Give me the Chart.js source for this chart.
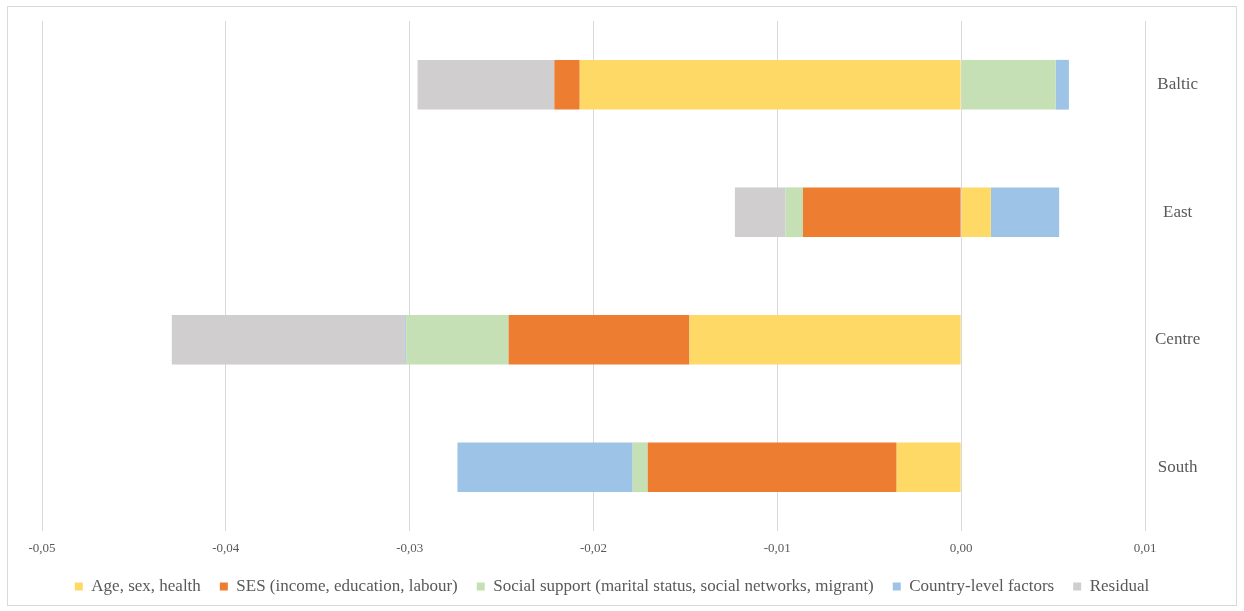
<!DOCTYPE html>
<html>
<head>
<meta charset="UTF-8">
<title>Decomposition by region</title>
<script src="https://cdn.jsdelivr.net/npm/chart.js"></script>
<style>
  body { margin: 0; background: #fff; }
  .frame {
    position: absolute;
    left: 7px; top: 6px;
    width: 1228px; height: 598px;
    border: 1px solid #d9d9d9;
  }
</style>
</head>
<body>
<div class="frame"><canvas id="chart"></canvas></div>
<script>
// regions (top to bottom)
const regions = ['Baltic', 'East', 'Centre', 'South'];

// contribution of each group of factors, per region
const ageSexHealth   = [-0.02075,  0.00161, -0.01478, -0.00351];
const ses            = [-0.00138, -0.00861, -0.00984, -0.01354];
const socialSupport  = [ 0.00514, -0.00094, -0.00557, -0.00082];
const countryLevel   = [ 0.00072,  0.00372, -0.00005, -0.00953];
const residual       = [-0.00744, -0.00276, -0.01270,  0];

const xTickLabels = ['-0,05', '-0,04', '-0,03', '-0,02', '-0,01', '0,00', '0,01'];

const serif = "'Liberation Serif', 'Times New Roman', serif";
const textColor = '#595959';

const mk = (label, data, color) => ({
  label: label,
  data: data,
  backgroundColor: color,
  borderWidth: 0,
  categoryPercentage: 1,
  barPercentage: 0.39
});

new Chart(document.getElementById('chart'), {
  type: 'bar',
  data: {
    labels: regions,
    datasets: [
      mk('Age, sex, health', ageSexHealth, '#FFD966'),
      mk('SES (income, education, labour)', ses, '#ED7D31'),
      mk('Social support (marital status, social networks, migrant)', socialSupport, '#C5E0B4'),
      mk('Country-level factors', countryLevel, '#9DC3E6'),
      mk('Residual', residual, '#D0CECE')
    ]
  },
  options: {
    indexAxis: 'y',
    responsive: true,
    maintainAspectRatio: false,
    animation: false,
    layout: { padding: { left: 0, right: 20, top: 14, bottom: 0 } },
    plugins: {
      tooltip: { enabled: false },
      legend: {
        position: 'bottom',
        labels: {
          boxWidth: 8,
          boxHeight: 8,
          padding: 19,
          color: textColor,
          font: { family: serif, size: 17 }
        }
      }
    },
    scales: {
      x: {
        stacked: true,
        min: -0.05,
        max: 0.01,
        ticks: {
          stepSize: 0.01,
          padding: 10,
          color: textColor,
          font: { family: serif, size: 13 },
          callback: (v, i) => xTickLabels[i]
        },
        grid: { color: '#d9d9d9', lineWidth: 1, drawTicks: false },
        border: { display: false },
        afterFit: (scale) => {
          scale.height = 28;
          scale.paddingLeft = 34; // plot area starts 34px in
        }
      },
      y: {
        stacked: true,
        position: 'right',
        ticks: {
          crossAlign: 'center',
          padding: 0,
          color: textColor,
          font: { family: serif, size: 17 }
        },
        grid: { display: false, drawTicks: true, tickLength: 10 },
        border: { display: false },
        afterFit: (scale) => { scale.width = 71; }
      }
    }
  }
});
</script>
</body>
</html>
